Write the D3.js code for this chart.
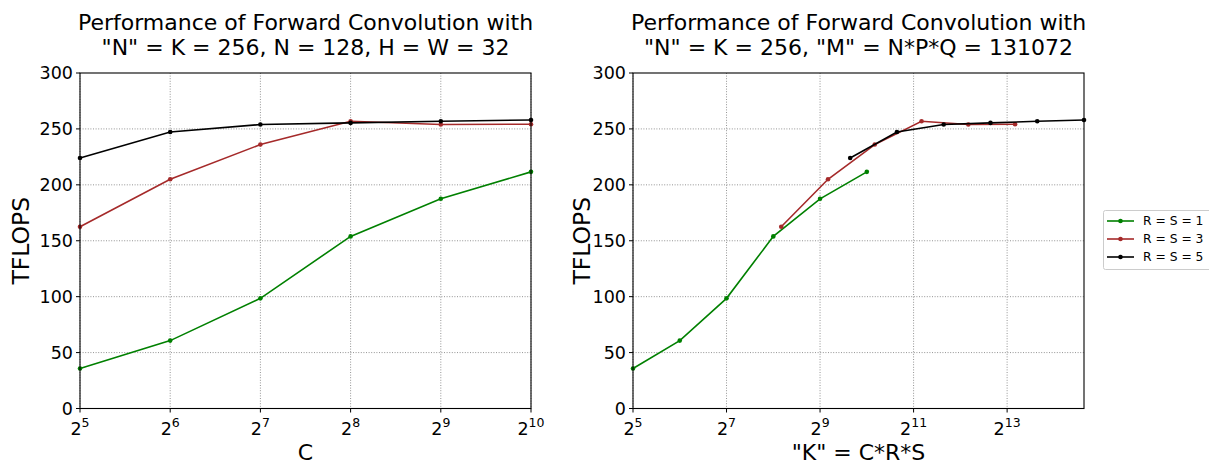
<!DOCTYPE html>
<html><head><meta charset="utf-8">
<script src="https://cdn.jsdelivr.net/npm/d3@7"></script>
<style>
body{margin:0;background:#fff;}
text{font-family:"DejaVu Sans",sans-serif;fill:#000;}
</style></head>
<body><svg id="c" width="1209" height="465"></svg>
<script>
const channels = [32, 64, 128, 256, 512, 1024];
const filterSizes = [1, 3, 5];
const seriesLabels = ["R = S = 1", "R = S = 3", "R = S = 5"];
const seriesColors = ["green", "#a52a2a", "black"];
const tflops1 = [35.8, 60.7, 98.5, 153.9, 187.5, 211.6];
const tflops3 = [162.5, 205.0, 236.0, 256.8, 253.9, 254.2];
const tflops5 = [224.0, 247.3, 253.9, 255.4, 256.8, 258.0];
const yTicks = [0, 50, 100, 150, 200, 250, 300];
const leftXTickExp = [5, 6, 7, 8, 9, 10];
const rightXTickExp = [5, 7, 9, 11, 13];
const leftTitle = ["Performance of Forward Convolution with", "\"N\" = K = 256, N = 128, H = W = 32"];
const rightTitle = ["Performance of Forward Convolution with", "\"N\" = K = 256, \"M\" = N*P*Q = 131072"];
const leftXLabel = "C";
const rightXLabel = "\"K\" = C*R*S";
const yLabel = "TFLOPS";

const allSeries = [tflops1, tflops3, tflops5];
const svg = d3.select("#c");
const plotTop = 73, plotBottom = 408.5;

function panel(x0, x1, xDomain, tickExps, xKey, title, xlabel, ylabX) {
  const x = d3.scaleLog().base(2).domain(xDomain).range([x0, x1]);
  const y = d3.scaleLinear().domain([0, 300]).range([plotBottom, plotTop]);
  const g = svg.append("g");
  g.selectAll(".gy").data(yTicks.slice(1, -1)).enter().append("line")
    .attr("x1", x0).attr("x2", x1).attr("y1", d => y(d)).attr("y2", d => y(d))
    .attr("stroke", "#888").attr("stroke-width", 0.9).attr("stroke-dasharray", "1,1.6");
  g.selectAll(".gx").data(tickExps).enter().append("line")
    .attr("x1", d => x(2 ** d)).attr("x2", d => x(2 ** d)).attr("y1", plotTop).attr("y2", plotBottom)
    .attr("stroke", "#888").attr("stroke-width", 0.9).attr("stroke-dasharray", "1,1.6");
  allSeries.forEach((vals, i) => {
    const pts = channels.map((c, j) => [xKey(c, filterSizes[i]), vals[j]]);
    g.append("path").datum(pts)
      .attr("d", d3.line().x(d => x(d[0])).y(d => y(d[1])))
      .attr("fill", "none").attr("stroke", seriesColors[i]).attr("stroke-width", 1.6);
    g.selectAll(null).data(pts).enter().append("circle")
      .attr("cx", d => x(d[0])).attr("cy", d => y(d[1])).attr("r", 2.3)
      .attr("fill", seriesColors[i]);
  });
  g.append("rect").attr("x", x0).attr("y", plotTop).attr("width", x1 - x0).attr("height", plotBottom - plotTop)
    .attr("fill", "none").attr("stroke", "#000").attr("stroke-width", 1.1);
  yTicks.forEach(t => {
    g.append("line").attr("x1", x0 - 4).attr("x2", x0).attr("y1", y(t)).attr("y2", y(t)).attr("stroke", "#000");
    g.append("text").attr("x", x0 - 7).attr("y", y(t)).attr("dy", "0.36em").attr("text-anchor", "end")
      .attr("font-size", 17.5).text(t);
  });
  tickExps.forEach(e => {
    const px = x(2 ** e);
    g.append("line").attr("x1", px).attr("x2", px).attr("y1", plotBottom).attr("y2", plotBottom + 4).attr("stroke", "#000");
    const t = g.append("text").attr("x", px).attr("y", plotBottom + 26).attr("text-anchor", "middle").attr("font-size", 17.5);
    t.append("tspan").text("2");
    t.append("tspan").attr("font-size", 12.5).attr("dy", -7.5).text(e);
  });
  const cx = (x0 + x1) / 2;
  g.append("text").attr("x", cx).attr("y", 30).attr("text-anchor", "middle").attr("font-size", 22).text(title[0]);
  g.append("text").attr("x", cx).attr("y", 55).attr("text-anchor", "middle").attr("font-size", 22).text(title[1]);
  g.append("text").attr("x", cx).attr("y", 460).attr("text-anchor", "middle").attr("font-size", 22).text(xlabel);
  g.append("text").attr("transform", `translate(${ylabX},${(plotTop + plotBottom) / 2}) rotate(-90)`)
    .attr("text-anchor", "middle").attr("font-size", 23.5).text(yLabel);
}

panel(80, 531, [32, 1024], leftXTickExp, (c, r) => c, leftTitle, leftXLabel, 29);
panel(633, 1084, [32, 1024 * 25], rightXTickExp, (c, r) => c * r * r, rightTitle, rightXLabel, 590);

const lg = svg.append("g");
lg.append("rect").attr("x", 1103.5).attr("y", 210.5).attr("width", 120).attr("height", 59).attr("rx", 2)
  .attr("fill", "#fff").attr("stroke", "#ccc");
seriesLabels.forEach((lab, i) => {
  const yy = 221 + i * 18;
  lg.append("line").attr("x1", 1107).attr("x2", 1134).attr("y1", yy).attr("y2", yy)
    .attr("stroke", seriesColors[i]).attr("stroke-width", 1.6);
  lg.append("circle").attr("cx", 1120.5).attr("cy", yy).attr("r", 2.3).attr("fill", seriesColors[i]);
  lg.append("text").attr("x", 1143).attr("y", yy).attr("dy", "0.36em").attr("font-size", 12.3).text(lab);
});
</script></body></html>
